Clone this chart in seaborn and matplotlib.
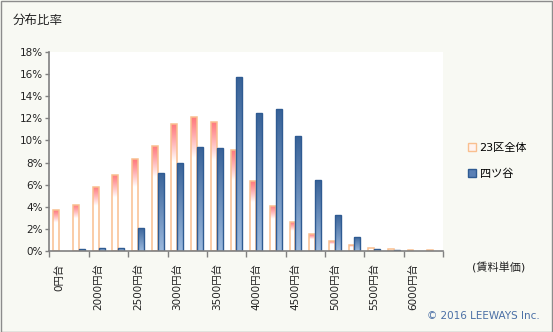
import numpy as np
import pandas as pd
import matplotlib
matplotlib.use("Agg")
import matplotlib.pyplot as plt
import seaborn as sns
from matplotlib.patches import Patch, Rectangle
from matplotlib.colors import to_rgb

# ---- data ----
categories = ["0円台", "1750円台", "2000円台", "2250円台", "2500円台", "2750円台",
              "3000円台", "3250円台", "3500円台", "3750円台", "4000円台", "4250円台",
              "4500円台", "4750円台", "5000円台", "5250円台", "5500円台", "5750円台",
              "6000円台", "6250円台"]
series_names = ["23区全体", "四ツ谷"]
ward_values = [3.7, 4.2, 5.8, 6.9, 8.3, 9.5, 11.5, 12.1, 11.7, 9.1,
               6.3, 4.1, 2.6, 1.5, 0.9, 0.5, 0.3, 0.2, 0.1, 0.1]
yotsuya_values = [0.0, 0.2, 0.3, 0.3, 2.1, 7.1, 8.0, 9.4, 9.3, 15.7,
                  12.5, 12.8, 10.4, 6.4, 3.3, 1.3, 0.2, 0.1, 0.0, 0.0]
y_ticks = [0, 2, 4, 6, 8, 10, 12, 14, 16, 18]
title_text = "分布比率"
xunit_text = "(賃料単価)"
credit_text = "© 2016 LEEWAYS Inc."

df = pd.DataFrame({
    "cat": categories * 2,
    "series": [series_names[0]] * len(categories) + [series_names[1]] * len(categories),
    "value": ward_values + yotsuya_values,
})

plt.rcParams["font.family"] = ["DejaVu Sans", "Noto Sans CJK JP"]

BG = "#F8F9F3"
fig = plt.figure(figsize=(5.53, 3.32), dpi=100, facecolor=BG)
ax = fig.add_axes([49.5 / 553, 1 - 251 / 332, (443 - 49.5) / 553, (251 - 52) / 332])
ax.set_facecolor("white")

sns.barplot(data=df, x="cat", y="value", hue="series", order=categories,
            hue_order=series_names, width=0.6, ax=ax, legend=False,
            palette=["#FFFFFF", "#5A80B5"])

ORANGE_EDGE = "#F9BF8F"
ORANGE_TOP = np.array(to_rgb("#FF7A7E"))
BLUE_EDGE = "#2F5B92"
BLUE_TOP = np.array(to_rgb("#386298"))
BLUE_BOT = np.array(to_rgb("#9BB9DE"))
WHITE = np.array([1.0, 1.0, 1.0])


def gradient(ax, patch, kind):
    x, y = patch.get_x(), patch.get_y()
    w, h = patch.get_width(), patch.get_height()
    if h <= 0:
        patch.set_visible(False)
        return
    n = 300
    t = np.linspace(0, 1, n)[:, None]  # 0 = top
    if kind == "orange":
        g = 0.3 * h
        a = np.clip(t * h / g, 0, 1) ** 1.2
        img = ORANGE_TOP * (1 - a) + WHITE * a
    else:
        img = BLUE_TOP * (1 - t) + BLUE_BOT * t
    img = img[:, None, :]
    im = ax.imshow(img, extent=[x, x + w, y, y + h], aspect="auto",
                   origin="upper", interpolation="bilinear", zorder=1.5)
    im.set_clip_path(patch)
    patch.set_facecolor("none")
    patch.set_zorder(2)


for p in ax.containers[0]:
    p.set_edgecolor(ORANGE_EDGE)
    p.set_linewidth(1.1)
    gradient(ax, p, "orange")
for p in ax.containers[1]:
    p.set_edgecolor(BLUE_EDGE)
    p.set_linewidth(1.0)
    gradient(ax, p, "blue")

ax.set_xlim(-0.5, len(categories) - 0.5)
ax.set_ylim(0, 18)
ax.set_xlabel("")
ax.set_ylabel("")

# y axis
ax.set_yticks(y_ticks)
ax.set_yticklabels([f"{v}%" for v in y_ticks], fontsize=7.5, color="#222222")
ax.tick_params(axis="y", length=3, width=1, color="#808080", pad=2)

# x axis: boundary ticks every 2 categories, labels every 2 categories
bounds = np.arange(-0.5, len(categories), 2)
ax.set_xticks(bounds)
ax.set_xticklabels([""] * len(bounds))
ax.tick_params(axis="x", which="major", length=4, width=1, color="#808080")
label_pos = np.arange(0, len(categories), 2)
ax.set_xticks(label_pos, minor=True)
ax.set_xticklabels(categories[::2], minor=True, rotation=90, fontsize=7.5,
                   color="#222222", va="top")
ax.tick_params(axis="x", which="minor", length=0, pad=9)

for s in ["top", "right"]:
    ax.spines[s].set_visible(False)
for s in ["left", "bottom"]:
    ax.spines[s].set_color("#808080")
    ax.spines[s].set_linewidth(1.2)

# texts
fig.text(13 / 553, 1 - 20 / 332, title_text, fontsize=9, va="center", ha="left",
         color="#222222")
fig.text(499 / 553, 1 - 268 / 332, xunit_text, fontsize=8, va="center",
         ha="center", color="#222222")
fig.text(540 / 553, 1 - 316 / 332, credit_text, fontsize=7.5, va="center",
         ha="right", color="#4A6FA5")

handles = [Patch(facecolor="#FFF3F0", edgecolor=ORANGE_EDGE, linewidth=1),
           Patch(facecolor="#5A80B5", edgecolor=BLUE_EDGE, linewidth=1)]
fig.legend(handles, series_names, loc="center left",
           bbox_to_anchor=(464 / 553, 1 - 161 / 332), frameon=False,
           fontsize=8, handlelength=0.7, handleheight=0.7, handletextpad=0.3,
           labelspacing=1.4, borderaxespad=0)

# figure border
fig.patches.append(Rectangle((0.5 / 553, 0.5 / 332), 1 - 1.5 / 553, 1 - 1.5 / 332,
                             transform=fig.transFigure, fill=False,
                             edgecolor="#8C8C8C", linewidth=1))

fig.savefig("out.png", dpi=100, facecolor=BG)
